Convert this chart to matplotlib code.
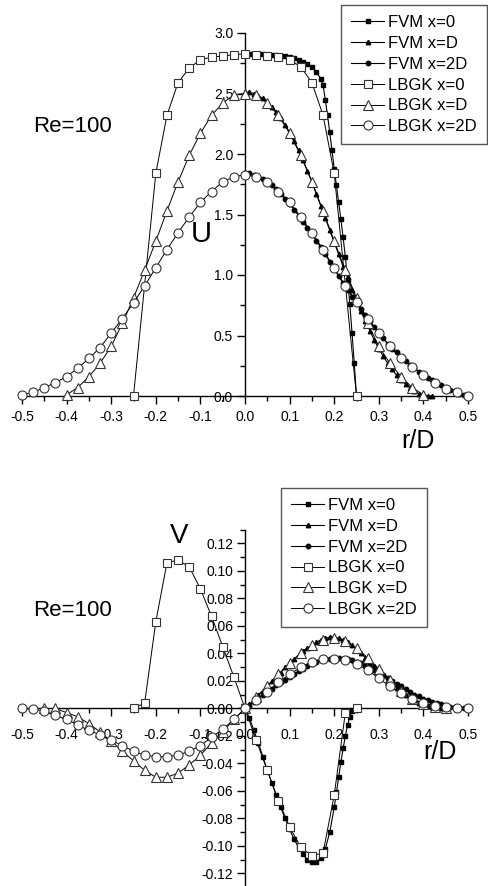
import numpy as np
import matplotlib
matplotlib.use("Agg")
import matplotlib.pyplot as plt
import matplotlib.ticker as mtick

plt.rcParams['font.family'] = ['Liberation Sans', 'DejaVu Sans']
plt.rcParams['axes.unicode_minus'] = False

# radial positions
r_fvm = [0.00, 0.01, 0.02, 0.03, 0.04, 0.05, 0.06, 0.07, 0.08, 0.09,
         0.10, 0.11, 0.12, 0.13, 0.14, 0.15, 0.16, 0.17, 0.18, 0.19,
         0.20, 0.21, 0.22, 0.23, 0.24, 0.25, 0.26, 0.27, 0.28, 0.29,
         0.30, 0.31, 0.32, 0.33, 0.34, 0.35, 0.36, 0.37, 0.38, 0.39,
         0.40, 0.41, 0.42, 0.43, 0.44, 0.45, 0.46, 0.47, 0.48, 0.49, 0.50]
r_lbgk = [-0.5, -0.475, -0.45, -0.425, -0.4, -0.375, -0.35, -0.325, -0.3, -0.275,
          -0.25, -0.225, -0.2, -0.175, -0.15, -0.125, -0.1, -0.075, -0.05, -0.025,
          0.0, 0.025, 0.05, 0.075, 0.1, 0.125, 0.15, 0.175, 0.2, 0.225,
          0.25, 0.275, 0.3, 0.325, 0.35, 0.375, 0.4, 0.425, 0.45, 0.475, 0.5]

# ---- axial velocity U ----
r_fvm_u0 = [0.0, 0.01, 0.02, 0.03, 0.04, 0.05, 0.06, 0.07, 0.08, 0.09,
            0.10, 0.11, 0.12, 0.13, 0.14, 0.15, 0.16, 0.17, 0.175, 0.18,
            0.185, 0.19, 0.195, 0.20, 0.205, 0.21, 0.215, 0.22, 0.225, 0.23,
            0.235, 0.24, 0.245, 0.25]
u_fvm_0 = [2.83, 2.83, 2.83, 2.83, 2.83, 2.82, 2.82, 2.82, 2.81, 2.81,
           2.80, 2.79, 2.78, 2.76, 2.74, 2.72, 2.68, 2.62, 2.57, 2.45,
           2.32, 2.18, 2.03, 1.88, 1.74, 1.60, 1.46, 1.31, 1.15, 0.96,
           0.76, 0.52, 0.27, 0.0]
u_fvm_d = [2.51, 2.51, 2.50, 2.48, 2.46, 2.43, 2.39, 2.35, 2.30, 2.24,
           2.18, 2.11, 2.03, 1.95, 1.86, 1.77, 1.67, 1.57, 1.47, 1.37,
           1.27, 1.17, 1.07, 0.98, 0.88, 0.79, 0.70, 0.62, 0.54, 0.46,
           0.39, 0.33, 0.27, 0.22, 0.17, 0.13, 0.10, 0.07, 0.04, 0.02,
           0.01, 0.0, 0.0]
u_fvm_2d = [1.84, 1.84, 1.83, 1.81, 1.79, 1.77, 1.74, 1.71, 1.67, 1.63,
            1.59, 1.54, 1.49, 1.44, 1.39, 1.34, 1.28, 1.23, 1.17, 1.11,
            1.05, 0.99, 0.93, 0.88, 0.82, 0.77, 0.72, 0.67, 0.62, 0.57,
            0.52, 0.48, 0.43, 0.39, 0.36, 0.32, 0.29, 0.26, 0.23, 0.20,
            0.18, 0.15, 0.13, 0.11, 0.09, 0.07, 0.05, 0.04, 0.02, 0.01, 0.0]

r_lbgk_u0 = [-0.25, -0.2, -0.175, -0.15, -0.125, -0.1, -0.075, -0.05, -0.025, 0.0,
             0.025, 0.05, 0.075, 0.1, 0.125, 0.15, 0.175, 0.2, 0.25]
u_lbgk_0 = [0.0, 1.84, 2.32, 2.59, 2.71, 2.78, 2.80, 2.81, 2.82, 2.83,
            2.82, 2.81, 2.80, 2.78, 2.72, 2.59, 2.32, 1.84, 0.0]
u_lbgk_d = [0.01, 0.07, 0.16, 0.27, 0.41, 0.60, 0.81, 1.04, 1.28, 1.53,
            1.77, 1.99, 2.17, 2.32, 2.42, 2.49, 2.50,
            2.49, 2.42, 2.32, 2.17, 1.99, 1.77, 1.53, 1.28, 1.04,
            0.81, 0.60, 0.41, 0.27, 0.16, 0.07, 0.01]
u_lbgk_2d = [0.01, 0.03, 0.07, 0.11, 0.16, 0.23, 0.31, 0.40, 0.52, 0.64,
             0.77, 0.91, 1.06, 1.21, 1.35, 1.48, 1.60, 1.69, 1.77, 1.81,
             1.83, 1.81, 1.77, 1.69, 1.60, 1.48, 1.35, 1.21, 1.06, 0.91,
             0.78, 0.64, 0.52, 0.41, 0.31, 0.24, 0.17, 0.11, 0.06, 0.03, 0.0]

# ---- radial velocity V ----
r_fvm_v0 = [0.0, 0.01, 0.02, 0.03, 0.04, 0.05, 0.06, 0.07, 0.08, 0.09,
            0.10, 0.11, 0.12, 0.13, 0.14, 0.15, 0.16, 0.17, 0.18, 0.19,
            0.20, 0.205, 0.21, 0.215, 0.22, 0.225, 0.23, 0.235, 0.24, 0.25]
v_fvm_0 = [0.0, -0.007, -0.016, -0.025, -0.035, -0.045, -0.054, -0.063, -0.072, -0.080,
           -0.088, -0.095, -0.101, -0.106, -0.110, -0.112, -0.112, -0.109, -0.102, -0.090,
           -0.072, -0.061, -0.050, -0.039, -0.029, -0.020, -0.012, -0.006, -0.002, 0.0]
v_fvm_d = [0.0, 0.003, 0.006, 0.010, 0.013, 0.016, 0.020, 0.023, 0.026, 0.030,
           0.033, 0.036, 0.039, 0.042, 0.044, 0.046, 0.048, 0.050, 0.051, 0.052,
           0.052, 0.051, 0.050, 0.048, 0.046, 0.043, 0.040, 0.037, 0.034, 0.031,
           0.028, 0.024, 0.021, 0.018, 0.015, 0.012, 0.010, 0.008, 0.006, 0.004,
           0.003, 0.002, 0.001, 0.0005, 0.0, 0.0]
v_fvm_2d = [0.0, 0.002, 0.005, 0.007, 0.010, 0.012, 0.014, 0.017, 0.019, 0.021,
            0.023, 0.025, 0.027, 0.029, 0.031, 0.032, 0.034, 0.035, 0.036, 0.036,
            0.037, 0.037, 0.036, 0.036, 0.035, 0.034, 0.033, 0.031, 0.030, 0.028,
            0.026, 0.024, 0.022, 0.020, 0.018, 0.016, 0.014, 0.012, 0.010, 0.009,
            0.007, 0.006, 0.005, 0.004, 0.003, 0.002, 0.001, 0.001, 0.0005, 0.0, 0.0]

r_lbgk_v0 = [-0.25, -0.225, -0.2, -0.175, -0.15, -0.125, -0.1, -0.075, -0.05, -0.025, 0.0,
             0.025, 0.05, 0.075, 0.1, 0.125, 0.15, 0.175, 0.2, 0.225, 0.25]
v_lbgk_0 = [0.0, 0.004, 0.063, 0.106, 0.108, 0.103, 0.087, 0.067, 0.045, 0.023, 0.0,
            -0.023, -0.045, -0.067, -0.086, -0.101, -0.107, -0.105, -0.063, -0.003, 0.0]
v_lbgk_d = [0.0, 0.0, -0.003, -0.006, -0.011, -0.017, -0.024, -0.031, -0.038, -0.045,
            -0.050, -0.050, -0.047, -0.041, -0.034, -0.025, -0.017, -0.008, 0.0,
            0.008, 0.016, 0.025, 0.033, 0.040, 0.046, 0.050, 0.051, 0.049, 0.044,
            0.037, 0.029, 0.021, 0.013, 0.007, 0.003, 0.001, 0.0]
v_lbgk_2d = [0.0, -0.0005, -0.002, -0.005, -0.008, -0.012, -0.016, -0.019, -0.023, -0.027,
             -0.031, -0.034, -0.035, -0.035, -0.034, -0.031, -0.027, -0.021, -0.015, -0.008,
             0.0, 0.006, 0.012, 0.019, 0.025, 0.030, 0.034, 0.036, 0.036, 0.035,
             0.032, 0.028, 0.022, 0.016, 0.011, 0.007, 0.004, 0.002, 0.001, 0.0, 0.0]

labels = ['FVM x=0', 'FVM x=D', 'FVM x=2D', 'LBGK x=0', 'LBGK x=D', 'LBGK x=2D']

W, H = 488, 886
fig = plt.figure(figsize=(W / 100, H / 100), dpi=100)

def px(x, y):
    return x / W, 1 - y / H

fvm_style = dict(color='black', lw=0.8, mfc='black', mec='black', clip_on=False, zorder=3)
lb_style = dict(color='black', lw=0.7, mfc='white', mec='#333333', mew=0.8, clip_on=False, zorder=4)

def draw(ax, fvm, lbgk):
    h = []
    for (r, v), m, ms in zip(fvm, ['s', '^', 'o'], [2.8, 3.2, 3.2]):
        h.append(ax.plot(r, v, marker=m, ms=ms, **fvm_style)[0])
    for (r, v), m, ms in zip(lbgk, ['s', '^', 'o'], [5.5, 6.5, 6.5]):
        h.append(ax.plot(r, v, marker=m, ms=ms, **lb_style)[0])
    return h

def style_axes(ax, label_pad):
    ax.set_xlim(-0.5, 0.5)
    ax.spines['left'].set_position(('data', 0))
    ax.spines['bottom'].set_position(('data', 0))
    ax.spines['right'].set_visible(False)
    ax.spines['top'].set_visible(False)
    for s in ('left', 'bottom'):
        ax.spines[s].set_linewidth(1.0)
    ax.xaxis.set_major_locator(mtick.MultipleLocator(0.1))
    ax.xaxis.set_minor_locator(mtick.MultipleLocator(0.05))
    ax.xaxis.set_major_formatter(mtick.FormatStrFormatter('%.1f'))
    ax.tick_params(axis='both', which='major', direction='out', length=6, width=1.0, labelsize=10)
    ax.tick_params(axis='both', which='minor', direction='out', length=3.5, width=1.0)
    ax.tick_params(axis='x', which='major', pad=label_pad)
    ax.tick_params(axis='y', which='major', pad=2.5)
    ax.patch.set_visible(False)

def add_legend(handles, loc, anchor):
    fig.legend(handles, labels, loc=loc, bbox_to_anchor=anchor, fontsize=12,
               frameon=True, fancybox=False, edgecolor='#555555', framealpha=1,
               handlelength=2.0, handletextpad=0.25, labelspacing=0.35,
               borderpad=0.6, borderaxespad=0)

# top panel: U
ax1 = fig.add_axes([22 / W, 1 - 396 / H, 446 / W, 363 / H])
h1 = draw(ax1,
          [(r_fvm_u0, u_fvm_0), (r_fvm[:43], u_fvm_d), (r_fvm, u_fvm_2d)],
          [(r_lbgk_u0, u_lbgk_0), (r_lbgk[4:37], u_lbgk_d), (r_lbgk, u_lbgk_2d)])
ax1.set_ylim(0, 3.0)
ax1.yaxis.set_major_locator(mtick.MultipleLocator(0.5))
ax1.yaxis.set_minor_locator(mtick.MultipleLocator(0.25))
ax1.yaxis.set_major_formatter(mtick.FormatStrFormatter('%.1f'))
style_axes(ax1, 4)
add_legend(h1, 'upper right', px(487, 5))
fig.text(*px(33, 127), 'Re=100', fontsize=16, ha='left', va='center')
fig.text(*px(201, 234), 'U', fontsize=21, ha='center', va='center')
fig.text(*px(418, 441), 'r/D', fontsize=18, ha='center', va='center')

# bottom panel: V
ax2 = fig.add_axes([22 / W, 1 - 887.25 / H, 446 / W, 357.5 / H])
h2 = draw(ax2,
          [(r_fvm_v0, v_fvm_0), (r_fvm[:46], v_fvm_d), (r_fvm, v_fvm_2d)],
          [(r_lbgk_v0, v_lbgk_0), (r_lbgk[2:39], v_lbgk_d), (r_lbgk, v_lbgk_2d)])
ax2.set_ylim(-0.13, 0.13)
ax2.yaxis.set_major_locator(mtick.MultipleLocator(0.02))
ax2.yaxis.set_minor_locator(mtick.MultipleLocator(0.01))
ax2.yaxis.set_major_formatter(mtick.FormatStrFormatter('%.2f'))
style_axes(ax2, 8)
add_legend(h2, 'upper left', px(281, 488))
fig.text(*px(33, 611), 'Re=100', fontsize=16, ha='left', va='center')
fig.text(*px(179, 536), 'V', fontsize=20, ha='center', va='center')
fig.text(*px(440, 752), 'r/D', fontsize=18, ha='center', va='center')

fig.savefig('out.png', dpi=100)
